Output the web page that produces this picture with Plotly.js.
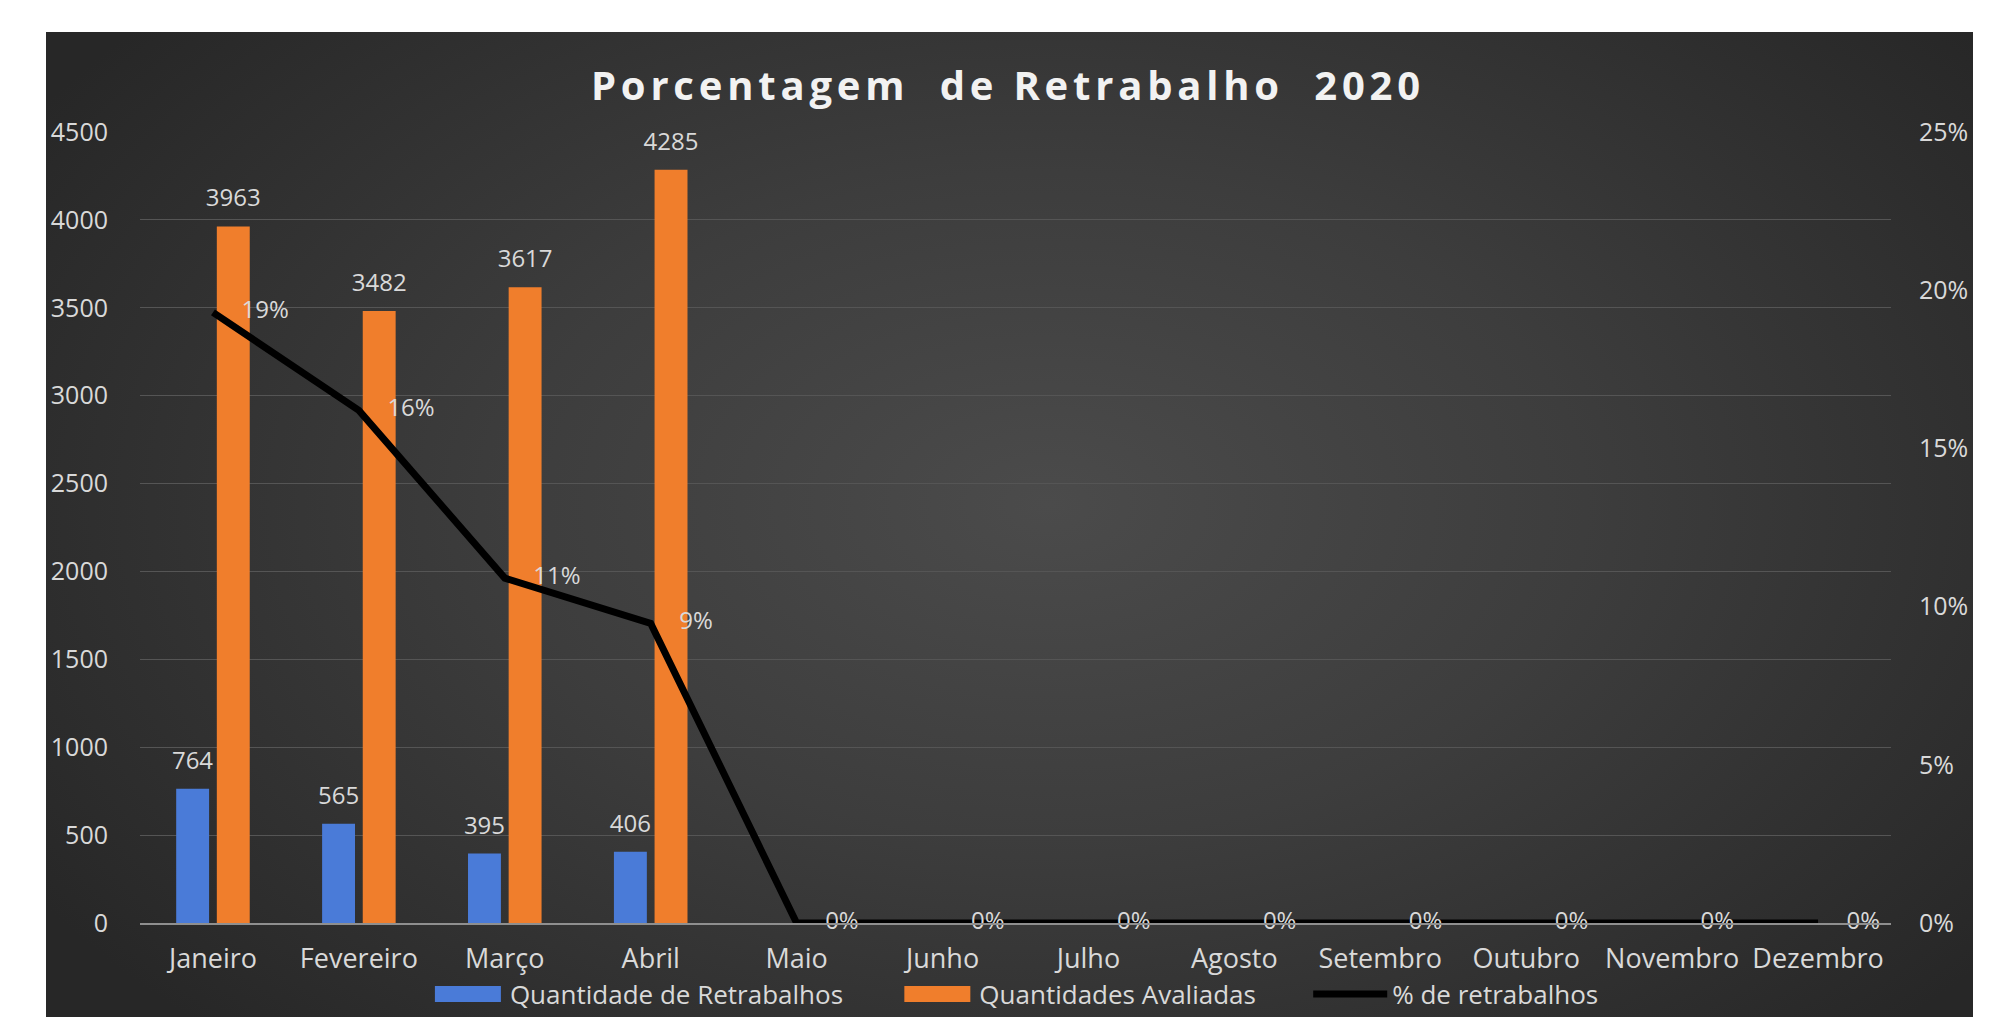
<!DOCTYPE html>
<html><head><meta charset="utf-8">
<script src="https://cdn.plot.ly/plotly-3.0.1.min.js"></script>
<style>
html,body{margin:0;padding:0;background:#ffffff;}
#bg{position:absolute;left:46px;top:32px;width:1927px;height:985px;
 background:radial-gradient(ellipse 62% 75% at 52% 48%, #4b4b4b 0%, #3d3d3d 45%, #272727 100%);}
#chart{position:absolute;left:0;top:0;width:1990px;height:1017px;}
.gtitle{letter-spacing:4.8px;}
</style></head><body>
<div id="bg"></div><div id="chart"></div>
<script>
const months = ['Janeiro','Fevereiro','Março','Abril','Maio','Junho','Julho','Agosto','Setembro','Outubro','Novembro','Dezembro'];
const retrabalhos = [764, 565, 395, 406, null, null, null, null, null, null, null, null];
const avaliadas = [3963, 3482, 3617, 4285, null, null, null, null, null, null, null, null];
const pctRetrabalho = [0.193, 0.162, 0.109, 0.0947, 0, 0, 0, 0, 0, 0, 0, 0];
const leftTicks = [0, 500, 1000, 1500, 2000, 2500, 3000, 3500, 4000, 4500];
const rightTicks = [0, 0.05, 0.10, 0.15, 0.20, 0.25];
const rightTickLabels = ['0%', '5%', '10%', '15%', '20%', '25%'];
const seriesNames = ['Quantidade de Retrabalhos', 'Quantidades Avaliadas', '% de retrabalhos'];

const labelColor = '#d9d9d9';
const fontFam = '"Open Sans", "DejaVu Sans", sans-serif';
const pad = '\u00A0'.repeat(7);

const traces = [
  {type:'bar', name:seriesNames[0] + pad, x:months, y:retrabalhos,
   marker:{color:'#4a7bd8'}, texttemplate:'%{y}', textposition:'outside', constraintext:'none',
   textfont:{color:labelColor, size:24, family:fontFam}, cliponaxis:false, hoverinfo:'x+y'},
  {type:'bar', name:seriesNames[1] + pad, x:months, y:avaliadas,
   marker:{color:'#f07e2c'}, texttemplate:'%{y}', textposition:'outside', constraintext:'none',
   textfont:{color:labelColor, size:24, family:fontFam}, cliponaxis:false, hoverinfo:'x+y'},
  {type:'scatter', mode:'lines', name:seriesNames[2], x:months, y:pctRetrabalho, yaxis:'y2',
   line:{color:'#000000', width:7}, cliponaxis:false},
  {type:'scatter', mode:'markers+text', x:months, y:pctRetrabalho, yaxis:'y2', showlegend:false,
   marker:{size:44, color:'rgba(0,0,0,0)'}, texttemplate:'%{y:.0%}', textposition:'middle right',
   textfont:{color:labelColor, size:24, family:fontFam}, cliponaxis:false, hoverinfo:'skip'}
];

const layout = {
  width:1990, height:1017,
  paper_bgcolor:'rgba(0,0,0,0)', plot_bgcolor:'rgba(0,0,0,0)',
  margin:{l:140, r:99, t:132, b:94, autoexpand:false},
  font:{family:fontFam, color:labelColor, size:25},
  title:{text:'Porcentagem\u00A0 de Retrabalho\u00A0 2020', xref:'container', x:0.5065, xanchor:'center',
         yref:'container', y:0.915, yanchor:'middle',
         font:{family:fontFam, size:40, color:'#f2f2f2', weight:'bold'}},
  barmode:'group', bargap:0.443, bargroupgap:0.19,
  showlegend:true,
  legend:{orientation:'h', xref:'container', x:0.51, xanchor:'center',
          yref:'container', y:0.0226, yanchor:'middle',
          font:{size:26, color:labelColor, family:fontFam}, itemwidth:74, traceorder:'normal',
          bgcolor:'rgba(0,0,0,0)'},
  xaxis:{type:'category', range:[-0.5, 11.5], autorange:false, automargin:false, showgrid:false, showline:true,
         linecolor:'#8f8f8f', linewidth:1.5,
         ticks:'outside', ticklen:11, tickcolor:'rgba(0,0,0,0)', tickfont:{size:27, color:labelColor}},
  yaxis:{range:[0,4500], automargin:false, tickvals:leftTicks, tickformat:'d', showgrid:true, gridcolor:'#555555', gridwidth:1,
         zeroline:false, showline:false, ticks:'outside', ticklen:26, tickcolor:'rgba(0,0,0,0)',
         tickfont:{size:25, color:labelColor}},
  yaxis2:{overlaying:'y', side:'right', range:[0,0.25], automargin:false, tickvals:rightTicks, ticktext:rightTickLabels,
          showgrid:false, zeroline:false, showline:false, ticks:'outside', ticklen:22,
          tickcolor:'rgba(0,0,0,0)', tickfont:{size:25, color:labelColor}}
};

function tweak(){
  document.querySelectorAll('#chart .legend .traces').forEach(function(t, i){
    t.querySelectorAll('.legendpoints path').forEach(function(p){
      if (i < 2) p.setAttribute('d','M33,8H-33V-8H33Z');
    });
  });
  document.querySelectorAll('#chart text.bartext').forEach(function(t){
    t.setAttribute('dy', '-10');
  });
}
Plotly.newPlot('chart', traces, layout, {displayModeBar:false, staticPlot:true}).then(function(){
  tweak();
  setTimeout(tweak, 300);
});
</script>
</body></html>
